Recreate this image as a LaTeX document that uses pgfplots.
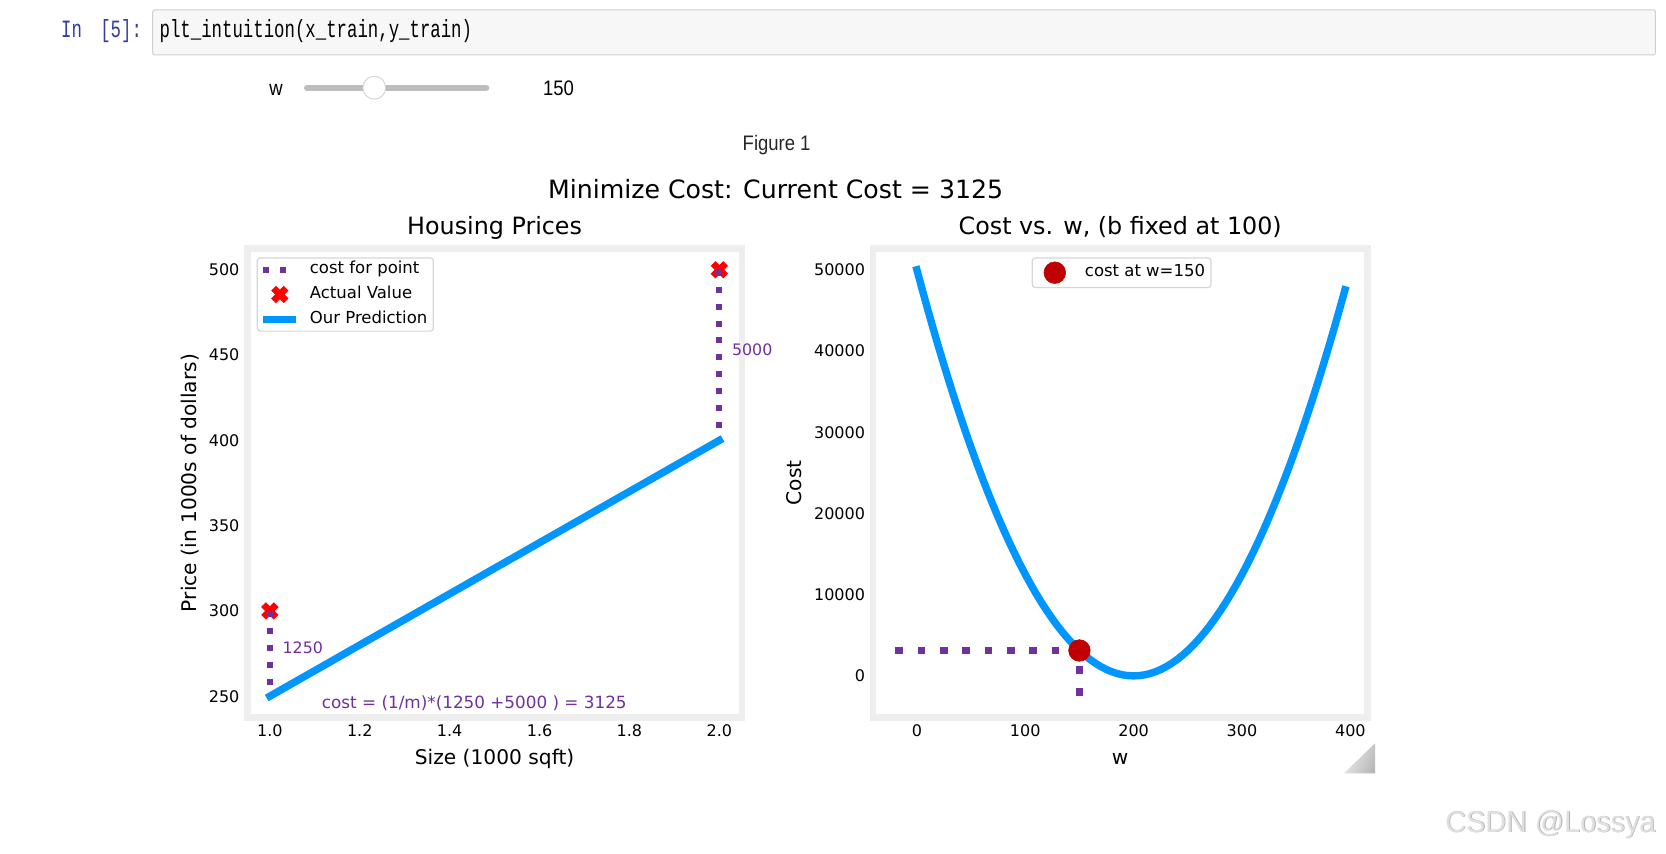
\documentclass[border=0pt]{standalone}
\usepackage{fontspec}
\usepackage{pgfplots}
\usepackage{pgfplotstable}
\usetikzlibrary{shadings}
\pgfplotsset{compat=1.18}

\setmainfont{DejaVu Sans}
\newfontfamily\uifont{Liberation Sans}[FakeStretch=0.88]
\newfontfamily\codefont{Liberation Mono}[FakeStretch=0.70]
\newfontfamily\wmfont{Liberation Sans}[FakeStretch=0.96]

\definecolor{dlblue}{HTML}{0096FF}
\definecolor{dlpurple}{HTML}{7030A0}
\definecolor{dldarkred}{HTML}{C00000}
\definecolor{framegray}{HTML}{EEEEEE}
\definecolor{legendedge}{HTML}{D6D6D6}
\definecolor{promptblue}{HTML}{303F9F}
\definecolor{cellbg}{HTML}{F7F7F7}
\definecolor{cellborder}{HTML}{CFCFCF}
\definecolor{track}{HTML}{BDBDBD}
\definecolor{knobedge}{HTML}{D5D5D5}

% filled "X" marker
\pgfdeclareplotmark{fatx}{%
  \pgfpathmoveto{\pgfqpoint{-0.5\pgfplotmarksize}{-1\pgfplotmarksize}}%
  \pgfpathlineto{\pgfqpoint{0pt}{-0.5\pgfplotmarksize}}%
  \pgfpathlineto{\pgfqpoint{0.5\pgfplotmarksize}{-1\pgfplotmarksize}}%
  \pgfpathlineto{\pgfqpoint{1\pgfplotmarksize}{-0.5\pgfplotmarksize}}%
  \pgfpathlineto{\pgfqpoint{0.5\pgfplotmarksize}{0pt}}%
  \pgfpathlineto{\pgfqpoint{1\pgfplotmarksize}{0.5\pgfplotmarksize}}%
  \pgfpathlineto{\pgfqpoint{0.5\pgfplotmarksize}{1\pgfplotmarksize}}%
  \pgfpathlineto{\pgfqpoint{0pt}{0.5\pgfplotmarksize}}%
  \pgfpathlineto{\pgfqpoint{-0.5\pgfplotmarksize}{1\pgfplotmarksize}}%
  \pgfpathlineto{\pgfqpoint{-1\pgfplotmarksize}{0.5\pgfplotmarksize}}%
  \pgfpathlineto{\pgfqpoint{-0.5\pgfplotmarksize}{0pt}}%
  \pgfpathlineto{\pgfqpoint{-1\pgfplotmarksize}{-0.5\pgfplotmarksize}}%
  \pgfpathclose
  \pgfusepathqfillstroke
}

% cost J(w) for b = 100 on the grid w = 0, 5, ..., 395
\pgfplotstableread{
w     cost
0     50000
5     47531
10    45125
15    42781
20    40500
25    38281
30    36125
35    34031
40    32000
45    30031
50    28125
55    26281
60    24500
65    22781
70    21125
75    19531
80    18000
85    16531
90    15125
95    13781
100   12500
105   11281
110   10125
115   9031
120   8000
125   7031
130   6125
135   5281
140   4500
145   3781
150   3125
155   2531
160   2000
165   1531
170   1125
175   781
180   500
185   281
190   125
195   31
200   0
205   31
210   125
215   281
220   500
225   781
230   1125
235   1531
240   2000
245   2531
250   3125
255   3781
260   4500
265   5281
270   6125
275   7031
280   8000
285   9031
290   10125
295   11281
300   12500
305   13781
310   15125
315   16531
320   18000
325   19531
330   21125
335   22781
340   24500
345   26281
350   28125
355   30031
360   32000
365   34031
370   36125
375   38281
380   40500
385   42781
390   45125
395   47531
}\costtable

\tikzset{
  costdots/.style={draw=dlpurple, line width=3.1pt, line cap=butt, dash pattern=on 3pt off 5.45pt},
  sweepdots/.style={draw=dlpurple, line width=3.85pt, line cap=butt, dash pattern=on 3.85pt off 7.3pt},
}

\pgfplotsset{
  panel/.style={
    scale only axis, width=247.2pt, height=234.5pt,
    clip mode=individual,
    axis line style={draw=framegray, line width=3.25pt},
    major tick length=0pt, minor tick length=0pt,
    tick style={draw=none},
    tick label style={font=\fontsize{8}{9.6}\selectfont, inner sep=0pt, text=black},
    /pgf/number format/assume math mode=true,
    xticklabel shift=3.6pt, yticklabel shift=3.8pt,
    label style={font=\fontsize{10.1}{12}\selectfont, inner sep=0pt},
    xlabel style={at={(axis description cs:0.5,-0.1)}, anchor=base},
    every axis title/.style={font=\fontsize{11.9}{14}\selectfont,
      at={(axis description cs:0.5,1.0292)}, anchor=base, inner sep=0pt},
    legend cell align=left,
    legend style={
      font=\fontsize{8.25}{10}\selectfont,
      draw=legendedge, line width=0.6pt, rounded corners=1.5pt, fill=white,
      inner xsep=3pt, inner ysep=2pt,
      row sep=4.6pt,
      /tikz/every odd column/.append style={column sep=6.8pt},
      nodes={inner sep=0pt, text height=6pt, text depth=1.8pt},
    },
  },
  % every legend sample spans 16.5pt; the strokes themselves stay out of the box size
  costlegend/.style={legend image code/.code={%
    \path[draw=none, fill=none] (0pt,-1.5pt) rectangle (16.5pt,1.5pt);
    \draw[costdots, overlay] (0pt,0pt) -- (16.5pt,0pt);}},
  xlegend/.style={legend image code/.code={%
    \path[draw=none, fill=none] (0pt,-1.5pt) rectangle (16.5pt,1.5pt);
    \path[overlay] plot[only marks, mark=fatx, mark size=3.9pt, mark options={fill=red, draw=red, line width=0.6pt, solid}] coordinates {(8.25pt,0pt)};}},
  linelegend/.style={legend image code/.code={%
    \path[draw=none, fill=none] (0pt,-1.5pt) rectangle (16.5pt,1.5pt);
    \draw[dlblue, line width=3.7pt, line cap=butt, solid, overlay] (0pt,0pt) -- (16.5pt,0pt);}},
  dotlegend/.style={legend image code/.code={%
    \path[draw=none, fill=none] (0pt,-1.5pt) rectangle (16.5pt,1.5pt);
    \path plot[only marks, mark=*, mark size=5.4pt, mark options={fill=dldarkred, draw=dldarkred, line width=0.3pt, solid}] coordinates {(8.25pt,0pt)};}},
}

\begin{document}
\begin{tikzpicture}
\path[use as bounding box, fill=white] (0pt,0pt) rectangle (833pt,426.5pt);

% notebook cell
\filldraw[fill=cellbg, draw=cellborder, line width=0.5pt, rounded corners=1pt]
  (76.35pt,399pt) rectangle (827.7pt,421.5pt);
\node[anchor=base west, inner sep=0pt, text=promptblue, font=\codefont\fontsize{12.4}{14}\selectfont]
  at (30.35pt,407.65pt) {In};
\node[anchor=base east, inner sep=0pt, text=promptblue, font=\codefont\fontsize{12.4}{14}\selectfont]
  at (71.2pt,407.65pt) {[5]:};
\node[anchor=base west, inner sep=0pt, font=\codefont\fontsize{12.4}{14}\selectfont]
  at (79.6pt,407.65pt) {plt\_intuition(x\_train,y\_train)};

% slider widget
\node[anchor=base, inner sep=0pt, font=\uifont\fontsize{10.5}{12}\selectfont] at (138pt,378.7pt) {w};
\draw[track, line width=3pt, line cap=round] (153.5pt,382.65pt) -- (243.15pt,382.65pt);
\filldraw[fill=white, draw=knobedge, line width=0.5pt] (187.15pt,382.65pt) circle (5.7pt);
\node[anchor=base, inner sep=0pt, font=\uifont\fontsize{10.5}{12}\selectfont] at (279.3pt,378.7pt) {150};

\node[anchor=base, inner sep=0pt, text=black!85, font=\uifont\fontsize{10.5}{12}\selectfont] at (388.3pt,351.05pt) {Figure 1};

% figure title
\node[anchor=base, inner sep=0pt, font=\fontsize{12.6}{15}\selectfont] at (387.8pt,327pt)
  {Minimize Cost: Current Cost = 3125};

% left panel: data, prediction and per-point cost
\begin{axis}[panel, at={(123.7pt,67.75pt)}, anchor=south west,
  xmin=0.95, xmax=2.05, ymin=237.5, ymax=512.5,
  xtick={1,1.2,1.4,1.6,1.8,2}, ytick={250,300,350,400,450,500},
  xticklabel style={/pgf/number format/.cd, fixed, fixed zerofill, precision=1},
  yticklabel style={/pgf/number format/.cd, fixed, precision=0},
  title={Housing Prices},
  xlabel={Size (1000 sqft)},
  ylabel={Price (in 1000s of dollars)},
  ylabel style={at={(axis description cs:-0.103,0.5)}, anchor=base},
  legend style={at={(axis description cs:0.0188,0.9812)}, anchor=north west},
]
\addplot[forget plot, only marks, mark=fatx, mark size=3.9pt,
  mark options={fill=red, draw=red, line width=0.6pt}]
  coordinates {(1,300) (2,500)};
\addplot[costdots, costlegend] coordinates {(1,300) (1,250)};
\addlegendentry{cost for point}
\addplot[costdots, forget plot] coordinates {(2,500) (2,400)};
\addlegendimage{xlegend}
\addlegendentry{Actual Value}
\addlegendimage{linelegend}
\addlegendentry{Our Prediction}
\addplot[forget plot, dlblue, line width=3.7pt, line cap=rect]
  coordinates {(1,250) (2,400)};
\node[anchor=base west, inner sep=0pt, text=dlpurple, font=\fontsize{7.9}{9}\selectfont, xshift=6.2pt]
  at (axis cs:1,275) {1250};
\node[anchor=base west, inner sep=0pt, text=dlpurple, font=\fontsize{7.9}{9}\selectfont, xshift=6.2pt]
  at (axis cs:2,450) {5000};
\node[anchor=base west, inner sep=0pt, text=dlpurple, font=\fontsize{8.4}{10}\selectfont]
  at (axis description cs:0.15,0.02) {cost = (1/m)*(1250 +5000 ) = 3125};
\end{axis}

% right panel: cost as a function of w
\begin{axis}[panel, at={(436.5pt,67.75pt)}, anchor=south west,
  xmin=-40.4875, xmax=415.7375, ymin=-5125, ymax=52625,
  xtick={0,100,200,300,400}, ytick={0,10000,20000,30000,40000,50000},
  scaled y ticks=false,
  yticklabel style={/pgf/number format/.cd, fixed, precision=0, set thousands separator={}},
  xticklabel style={/pgf/number format/.cd, fixed, precision=0},
  title={Cost vs. w, (b fixed at 100)},
  xlabel={w},
  ylabel={Cost},
  ylabel style={at={(axis description cs:-0.1454,0.5)}, anchor=base},
  legend style={at={(axis description cs:0.503,0.9812)}, anchor=north},
]
\addplot[forget plot, dlblue, line width=3.7pt, line cap=rect, line join=round]
  table[x=w, y=cost] {\costtable};
\addplot[forget plot, sweepdots] coordinates {(-19.75,3125) (150,3125)};
\addplot[forget plot, sweepdots] coordinates {(150,-2500) (150,3125)};
\addplot[only marks, mark=*, mark size=5.4pt,
  mark options={fill=dldarkred, draw=dldarkred, line width=0.3pt}, dotlegend]
  coordinates {(150,3125)};
\addlegendentry{cost at w=150}
\end{axis}

% window resize grip
\shade[upper left=black!6, upper right=black!22, lower left=black!12, lower right=black!30]
  (687.5pt,54.85pt) -- (687.5pt,39.85pt) -- (672pt,39.85pt) -- cycle;

% site watermark
\node[anchor=base west, inner sep=0pt, text=black!30, font=\wmfont\fontsize{15}{18}\selectfont]
  at (722.9pt,10.3pt) {CSDN @Lossya};
\node[anchor=base west, inner sep=0pt, text=black!12, font=\wmfont\fontsize{15}{18}\selectfont]
  at (722.5pt,10.5pt) {CSDN @Lossya};
\end{tikzpicture}
\end{document}
